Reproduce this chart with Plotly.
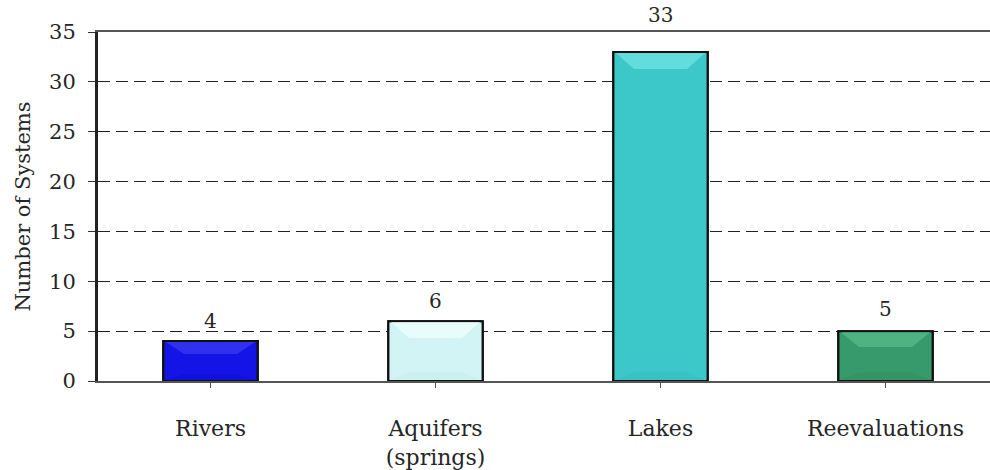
import plotly.graph_objects as go

categories = ["Rivers", "Aquifers<br>(springs)", "Lakes", "Reevaluations"]
values = [4, 6, 33, 5]
bar_colors = ["#1414e6", "#d2f4f4", "#3cc8c8", "#379a6c"]
top_colors = ["#3030ef", "#e9fcfc", "#62dcdc", "#4fb283"]
bottom_colors = ["#1111dd", "#cbf0f0", "#39c2c2", "#349464"]
y_ticks = [0, 5, 10, 15, 20, 25, 30, 35]

FONT = "DejaVu Serif, Liberation Serif, serif"
TEXT = "#262626"
BAR_W = 0.42
label_lift = [20, 20, 37, 22]  # px above each bar top for its value label

fig = go.Figure()

fig.add_trace(go.Bar(
    x=list(range(len(categories))), y=values, width=BAR_W,
    marker=dict(color=bar_colors, line=dict(color="#101010", width=2)),
    hoverinfo="skip", showlegend=False,
))

# bevel facets on each bar (lighter top face, slightly darker bottom face)
for i, v in enumerate(values):
    hw = BAR_W / 2 - 0.012
    dx = 0.08
    dy = min(1.6, 0.3 * v)
    xl, xr = i - hw, i + hw
    yt = v - 0.1
    yb = 0.1
    fig.add_trace(go.Scatter(
        x=[xl, xr, xr - dx, xl + dx, xl], y=[yt, yt, yt - dy, yt - dy, yt],
        fill="toself", fillcolor=top_colors[i], mode="none",
        hoverinfo="skip", showlegend=False,
    ))
    fig.add_trace(go.Scatter(
        x=[xl, xr, xr - dx, xl + dx, xl], y=[yb, yb, yb + dy * 0.5, yb + dy * 0.5, yb],
        fill="toself", fillcolor=bottom_colors[i], mode="none",
        hoverinfo="skip", showlegend=False,
    ))

# redraw outlines above the facets
fig.add_trace(go.Bar(
    x=list(range(len(categories))), y=values, width=BAR_W,
    marker=dict(color="rgba(0,0,0,0)", line=dict(color="#101010", width=2)),
    hoverinfo="skip", showlegend=False,
))

# value labels above the bars
for i, v in enumerate(values):
    fig.add_annotation(
        x=i, y=v, text=str(v), showarrow=False, yshift=label_lift[i],
        xanchor="center", yanchor="middle",
        font=dict(family=FONT, size=20, color=TEXT),
    )

fig.update_layout(
    width=990, height=470,
    margin=dict(l=98, r=0, t=32, b=86),
    paper_bgcolor="white", plot_bgcolor="white",
    barmode="overlay",
    font=dict(family=FONT, size=20, color=TEXT),
    xaxis=dict(
        range=[-0.5, -0.5 + 892 / 225],
        tickmode="array", tickvals=list(range(len(categories))), ticktext=categories,
        tickson="boundaries", ticks="outside", ticklen=5, tickcolor="#555",
        showline=True, linecolor="#555", linewidth=2, mirror=True,
        showgrid=False, zeroline=False, ticklabelstandoff=22,
        tickfont=dict(family=FONT, size=22, color=TEXT),
    ),
    yaxis=dict(
        range=[0, 35], tickvals=y_ticks,
        ticks="outside", ticklen=7, tickcolor="#333",
        showline=True, linecolor="#222", linewidth=3,
        showgrid=True, gridcolor="#222", gridwidth=1.3, griddash="12px,6px",
        zeroline=False, ticklabelstandoff=8,
        tickfont=dict(family=FONT, size=21, color=TEXT),
        title=dict(text="Number of Systems", font=dict(family=FONT, size=21, color=TEXT), standoff=13),
    ),
)

fig.write_html("out.html")
